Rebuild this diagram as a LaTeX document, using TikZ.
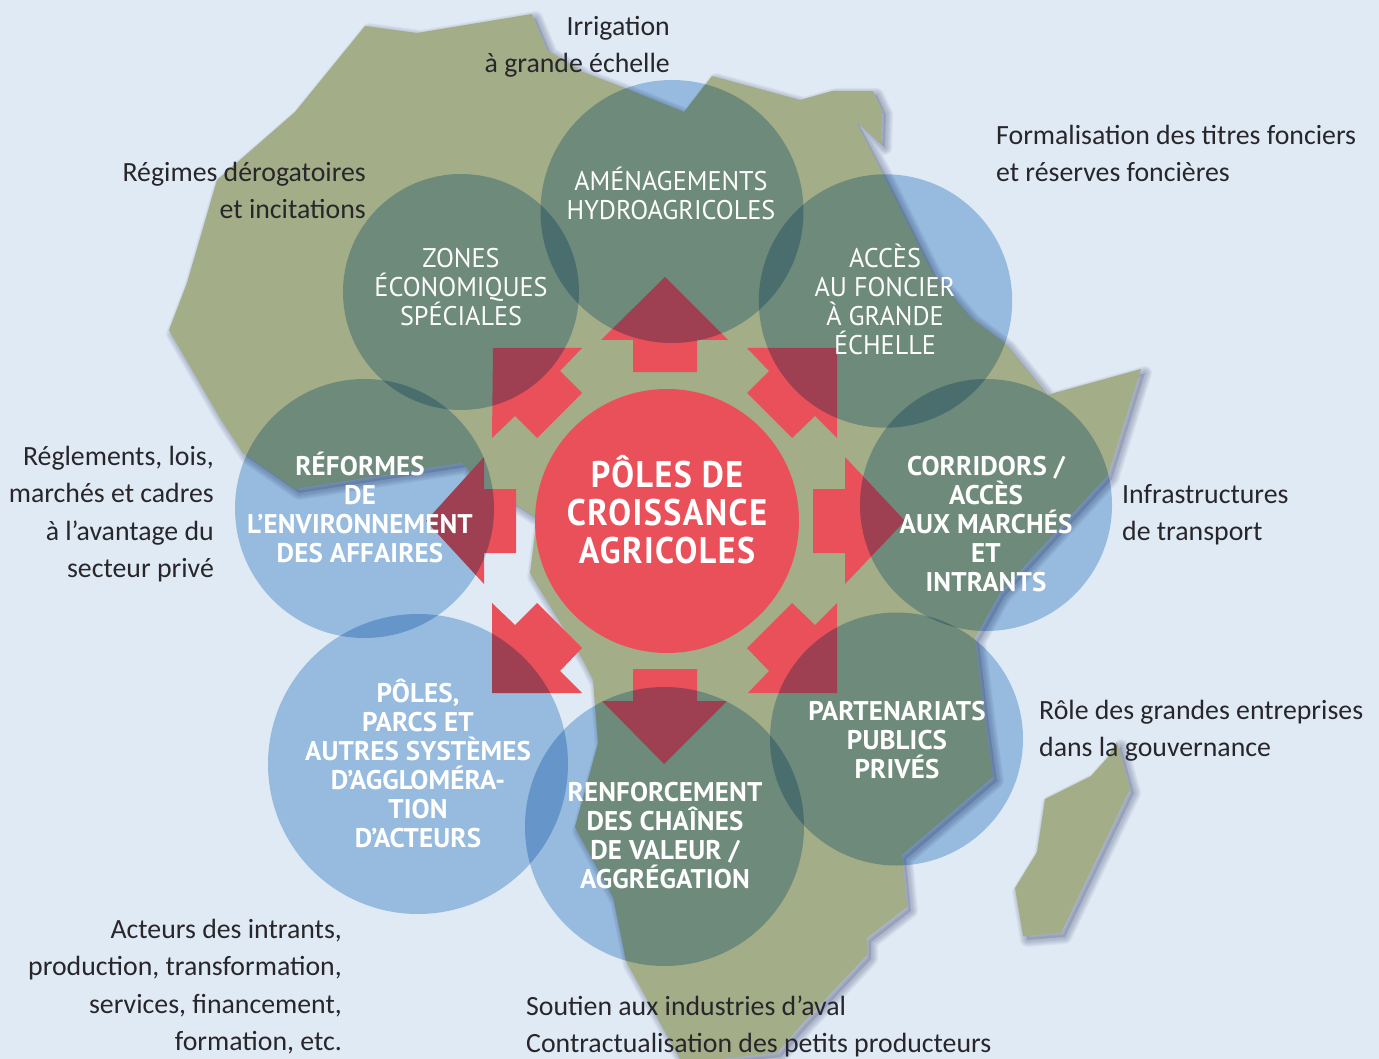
\documentclass[tikz,border=0pt]{standalone}
\usepackage{fontspec}
\setmainfont{Carlito}
\newfontfamily\capsfont[FakeStretch=0.97]{PT Sans}
\newfontfamily\capbfont[LetterSpace=0.5]{PT Sans}
\newfontfamily\centerfont[FakeStretch=0.92,LetterSpace=4]{PT Sans}
\definecolor{bgc}{RGB}{223,234,245}
\definecolor{landc}{RGB}{163,173,135}
\definecolor{redc}{RGB}{234,80,90}
\definecolor{mulc}{RGB}{173,204,232}
\definecolor{inkc}{RGB}{40,38,42}
\definecolor{shadc}{RGB}{70,80,120}
\def\AfricaPath{(365,26) -- (417,33) -- (532,14) -- (547,50) -- (583,72) -- (625,88) -- (684,112) -- (712,76) -- (800,100) -- (832,91) -- (873,91) -- (882,110) -- (881,144) -- (855,120) -- (880,168) -- (932,272) -- (970,317) -- (1005,343) -- (1047,395) -- (1141,369) -- (1108,475) -- (1000,593) -- (975,638) -- (985,720) -- (993,777) -- (902,855) -- (907,907) -- (867,938) -- (867,955) -- (803,1023) -- (777,1053) -- (720,1059) -- (680,1059) -- (626,961) -- (613,897) -- (575,827) -- (598,743) -- (593,680) -- (583,660) -- (530,573) -- (537,518) -- (517,505) -- (483,487) -- (462,463) -- (295,489) -- (243,453) -- (220,418) -- (169,330) -- (187,283) -- (217,180) -- (295,112) -- cycle}
\def\MadaPath{(1117,742) -- (1130,789) -- (1061,933) -- (1023,936) -- (1015,888) -- (1037,852) -- (1045,799) -- (1091,776) -- (1108,757) -- cycle}
\newcommand{\tightlines}{\lineskiplimit -30pt\relax}
\tikzset{
  arrowshape/.style={fill=redc},
  bubble/.style={fill=mulc,blend mode=multiply},
  shadowbase/.style={fill=shadc,fill opacity=0.22,shift={(4,4)}},
  shadowline/.style={draw=shadc,opacity=0.06,line join=round,shift={(4,4)}},
  note/.style={inner sep=0pt,text=inkc,font=\fontsize{27.8}{37.4}\selectfont,yshift=25pt},
  capl/.style={inner sep=0pt,align=center,anchor=north,text=white,font=\tightlines\capsfont\fontsize{27}{29}\selectfont,yshift=25pt},
  capb/.style={capl,font=\tightlines\capbfont\bfseries\fontsize{27}{29}\selectfont},
  capc/.style={capl,font=\tightlines\centerfont\bfseries\fontsize{37}{38}\selectfont,yshift=7pt},
}
\newcommand{\ns}{\rule{0pt}{25pt}}
\newcommand{\nc}{\rule{0pt}{30pt}}
\begin{document}
\begin{tikzpicture}[x=1pt,y=-1pt]
\useasboundingbox (0,0) rectangle (1379,1059);
\fill[bgc] (0,0) rectangle (1379,1059);
% shadows
\fill[shadowbase] \AfricaPath;
\fill[shadowbase] \MadaPath;
\foreach \w in {14,12,10,8,6,4}{
  \draw[shadowline,line width=\w pt] \AfricaPath;
  \draw[shadowline,line width=\w pt] \MadaPath;
}
% land
\fill[landc] \AfricaPath;
\fill[landc] \MadaPath;
% arrows
\fill[arrowshape] (633,372) -- (633,340) -- (601,340) -- (665,277) -- (728,340) -- (697,340) -- (697,372) -- cycle;
\fill[arrowshape] (633,669) -- (633,701) -- (602,701) -- (664,764) -- (727,701) -- (697,701) -- (697,669) -- cycle;
\fill[arrowshape] (813,489) -- (845,489) -- (845,457) -- (905,521) -- (845,584) -- (845,553) -- (813,553) -- cycle;
\fill[arrowshape] (516,489) -- (484,489) -- (484,457) -- (426,521) -- (484,584) -- (484,553) -- (516,553) -- cycle;
\fill[arrowshape] (493,348) -- (582,348) -- (560,371) -- (582,393) -- (537,438) -- (515,416) -- (492,438) -- cycle;
\fill[arrowshape] (837,348) -- (747,348) -- (769,371) -- (747,393) -- (792,438) -- (815,416) -- (837,438) -- cycle;
\fill[arrowshape] (492,693) -- (582,693) -- (560,671) -- (582,648) -- (537,603) -- (515,625) -- (492,603) -- cycle;
\fill[arrowshape] (837,693) -- (748,693) -- (769,671) -- (747,648) -- (792,603) -- (815,625) -- (837,603) -- cycle;
\fill[redc] (667,521) circle (132);
% bubbles
\fill[bubble] (672,211.5) circle (131.5);
\fill[bubble] (461,292) circle (118);
\fill[bubble] (885.5,301) circle (126.7);
\fill[bubble] (986,505) circle (126);
\fill[bubble] (364.5,508.5) circle (129.5);
\fill[bubble] (418,764) circle (150);
\fill[bubble] (664.5,826.5) circle (139.5);
\fill[bubble] (896.5,739) circle (126.5);
% notes
\node[note,align=right,anchor=north east] (n1) at (670,35) {\ns Irrigation\\\ns à grande échelle};
\node[note,align=left,anchor=north west] (n2) at (996,144) {\ns Formalisation des titres fonciers\\\ns et réserves foncières};
\node[note,align=right,anchor=north east] (n3) at (366,181) {\ns Régimes dérogatoires\\\ns et incitations};
\node[note,align=right,anchor=north east] (n4) at (214,465) {\ns Réglements, lois,\\\ns marchés et cadres\\\ns à l’avantage du\\\ns secteur privé};
\node[note,align=left,anchor=north west] (n5) at (1122,503) {\ns Infrastructures\\\ns de transport};
\node[note,align=left,anchor=north west] (n6) at (1039,719) {\ns Rôle des grandes entreprises\\\ns dans la gouvernance};
\node[note,align=right,anchor=north east] (n7) at (342,938) {\ns Acteurs des intrants,\\\ns production, transformation,\\\ns services, financement,\\\ns formation, etc.};
\node[note,align=left,anchor=north west] (n8) at (526,1015) {\ns Soutien aux industries d’aval\\\ns Contractualisation des petits producteurs};
% circle labels
\node[capl] (c1) at (671,190) {\ns AMÉNAGEMENTS\\\ns HYDROAGRICOLES};
\node[capl] (c2) at (461,267) {\ns ZONES\\\ns ÉCONOMIQUES\\\ns SPÉCIALES};
\node[capl] (c3) at (885,267) {\ns ACCÈS\\\ns AU FONCIER\\\ns À GRANDE\\\ns ÉCHELLE};
\node[capb] (c4) at (360,475) {\ns RÉFORMES\\\ns DE\\\ns L’ENVIRONNEMENT\\\ns DES AFFAIRES};
\node[capb] (c5) at (986,475) {\ns CORRIDORS /\\\ns ACCÈS\\\ns AUX MARCHÉS\\\ns ET\\\ns INTRANTS};
\node[capb] (c6) at (418,702) {\ns PÔLES,\\\ns PARCS ET\\\ns AUTRES SYSTÈMES\\\ns D’AGGLOMÉRA-\\\ns TION\\\ns D’ACTEURS};
\node[capb] (c7) at (665,801) {\ns RENFORCEMENT\\\ns DES CHAÎNES\\\ns DE VALEUR /\\\ns AGGRÉGATION};
\node[capb] (c8) at (897,720) {\ns PARTENARIATS\\\ns PUBLICS\\\ns PRIVÉS};
\node[capc] (c0) at (667,487) {\nc PÔLES DE\\\nc CROISSANCE\\\nc AGRICOLES};
\end{tikzpicture}
\end{document}
